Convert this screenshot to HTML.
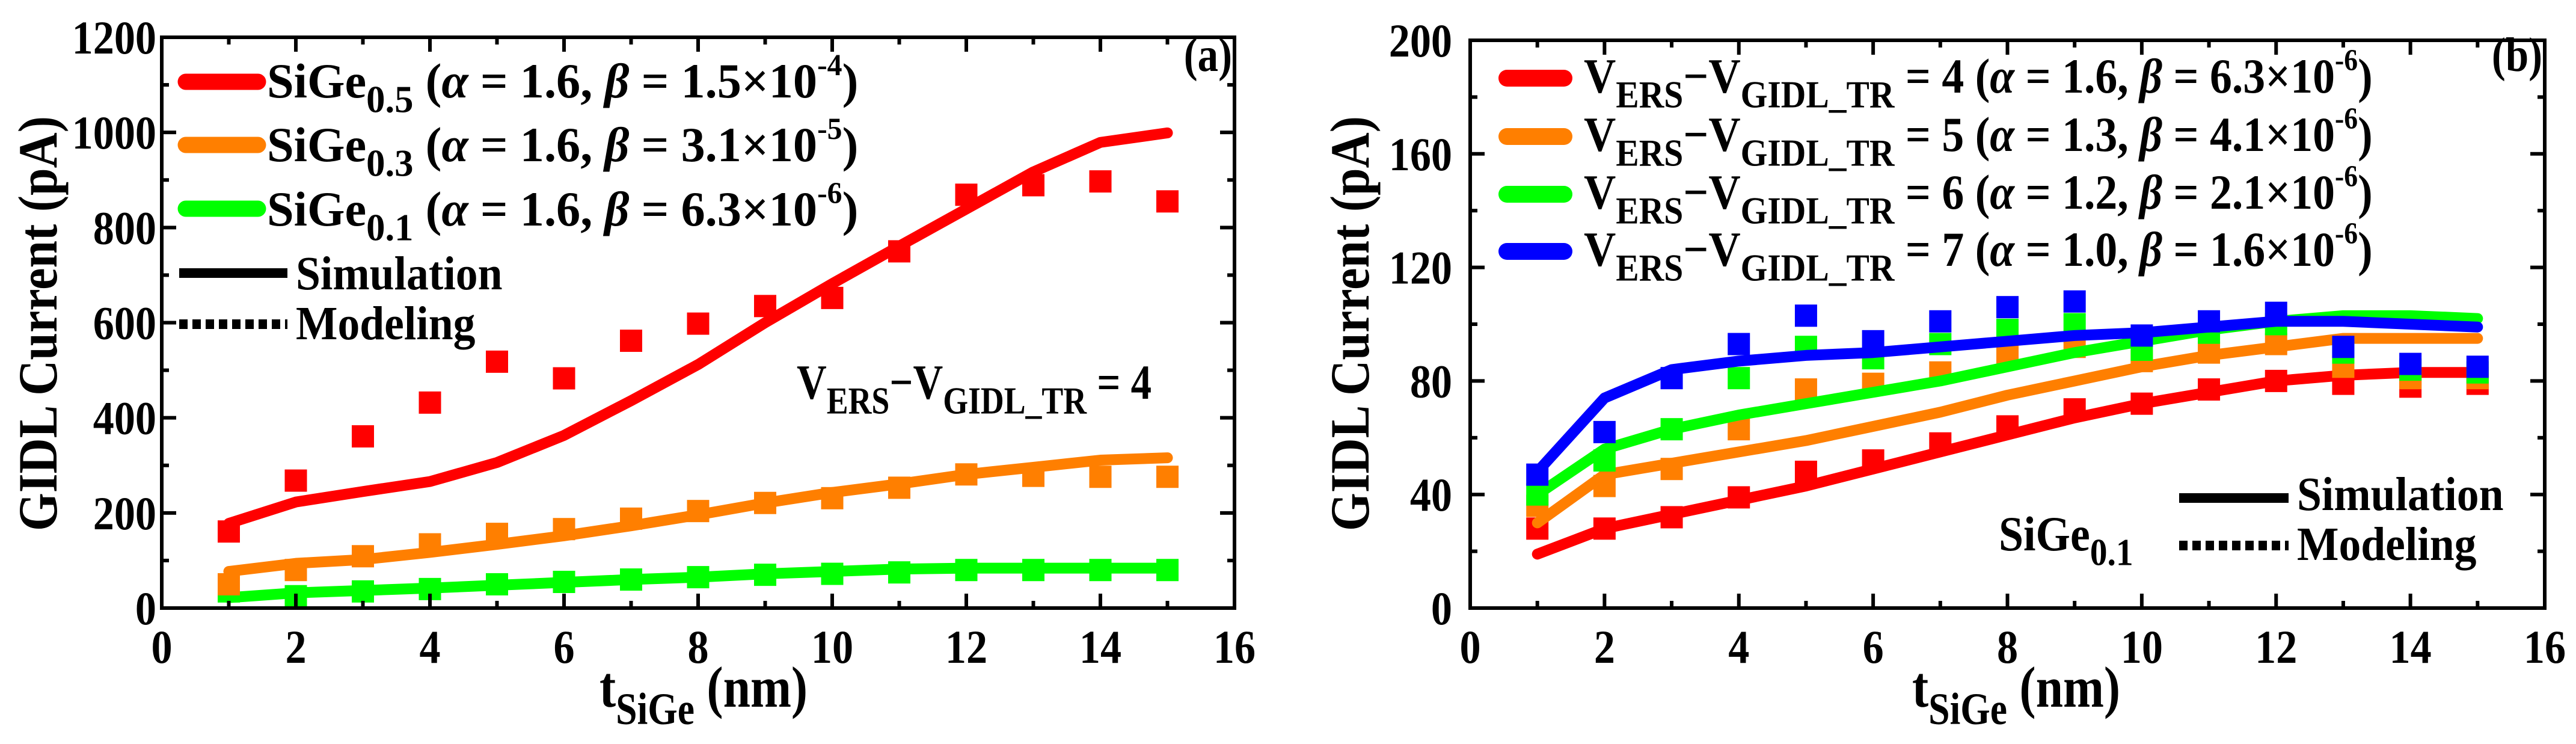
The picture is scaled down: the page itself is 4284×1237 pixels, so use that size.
<!DOCTYPE html>
<html><head><meta charset="utf-8"><style>
html,body{margin:0;padding:0;background:#fff;}
svg{display:block;font-family:"Liberation Serif",serif;font-weight:bold;}
</style></head><body>
<svg id="fig" xmlns="http://www.w3.org/2000/svg" width="4284" height="1237" viewBox="0 0 4284 1237"></svg>
<script>
const xVals=[1,2,3,4,5,6,7,8,9,10,11,12,13,14,15];
const aRedSim=[178,223,245,266,306,363,436,512,600,682,761,839,917,979,999];
const aRedMod=[161,268,361,432,518,483,562,598,635,652,750,869,889,897,855];
const aOrSim=[77,94,102,117,134,152,173,196,221,243,261,281,296,311,316];
const aOrMod=[50,80,109,134,156,166,188,204,221,231,253,281,278,276,276];
const aGrSim=[22,32,37,42,48,54,60,65,72,77,82,84,84,84,84];
const aGrMod=[35,25,35,40,50,55,60,65,70,72,75,80,80,80,80];
const bRedSim=[19,28,33,38,43,49,55,61,67,72,76,80,82,83,83];
const bRedMod=[28,28,32,39,48,52,58,64,70,72,77,80,79,78,79];
const bOrSim=[30,47,51,55,59,64,69,75,80,85,89,92,95,95,95];
const bOrMod=[36,43,49,63,77,79,83,89,92,87,90,93,85,81,81];
const bGrSim=[40,56,63,68,72,76,80,85,90,94,98,101,103,103,102];
const bGrMod=[40,52,63,81,92,88,93,98,100,91,97,100,90,84,83];
const bBlSim=[48,74,84,87,89,90,92,94,96,97,99,101,101,100,99];
const bBlMod=[47,62,81,93,103,94,101,106,108,96,101,104,92,86,85];
const xTicks=[0,2,4,6,8,10,12,14,16];
const aYTicks=[0,200,400,600,800,1000,1200];
const bYTicks=[0,40,80,120,160,200];

const NS="http://www.w3.org/2000/svg";
const svg=document.getElementById('fig');
function el(tag,attrs,parent){const e=document.createElementNS(NS,tag);for(const k in attrs)e.setAttribute(k,attrs[k]);(parent||svg).appendChild(e);return e;}
function txt(x,y,s,size,anchor,sx,parent){const t=el('text',{transform:`translate(${x},${y}) scale(${sx},1)`,'font-size':size,'text-anchor':anchor},parent);t.textContent=s;return t;}
function rich(x,y,parts,size,sx,parent){
  const t=el('text',{transform:`translate(${x},${y}) scale(${sx},1)`,'font-size':size},parent);
  let cur=0;
  for(const [s,type] of parts){
    const sp=document.createElementNS(NS,'tspan');
    let target=0,fs=size;
    if(type==='sub'){target=size*0.3;fs=size*0.78;}
    if(type==='sup'){target=-size*0.45;fs=size*0.62;}
    sp.setAttribute('dy',target-cur);cur=target;
    sp.setAttribute('font-size',fs);
    if(type==='i')sp.setAttribute('font-style','italic');
    sp.textContent=s;t.appendChild(sp);
  }
  return t;
}
const COLORS={red:'#ff0000',orange:'#ff7f00',green:'#00ff00',blue:'#0000ff'};

function panel(opt){
  const g=el('g',{});
  
  
  const {L,R,T,B,ymax}=opt;
  const X=v=>L+(v-0)/16*(R-L);
  const Y=v=>B-v/ymax*(B-T);
  for(const s of opt.series){
    const sg=el('g',{},g);
    
    
    const draw=()=>{
      const pts=xVals.map((x,i)=>X(x)+','+Y(s.sim[i])).join(' ');
      const pl=el('polyline',{points:pts,fill:'none',stroke:s.color,'stroke-width':18,'stroke-linejoin':'round','stroke-linecap':'round'},sg);
      
      
    };
    const sq=()=>{
      xVals.forEach((x,i)=>{
        const r=el('rect',{x:X(x)-18.5,y:Y(s.mod[i])-18.5,width:37,height:37,fill:s.color},sg);
        
        
      });
    };
    if(opt.squaresFirst){sq();draw();}else{draw();sq();}
  }
  const fr=el('rect',{x:L,y:T,width:R-L,height:B-T,fill:'none',stroke:'#000','stroke-width':6},g);
  
  
  for(let v=0;v<=16;v++){
    const len=v%2===0?24:12;const x=X(v);
    el('line',{x1:x,y1:B,x2:x,y2:B-len,stroke:'#000','stroke-width':6},g);
    el('line',{x1:x,y1:T,x2:x,y2:T+len,stroke:'#000','stroke-width':6},g);
  }
  xTicks.forEach(v=>{const t=txt(X(v),1102,String(v),78,'middle',0.9,g);
    
    });
  const yt=opt.yTicks;const step=yt[1]-yt[0];
  for(let v=0;v<=ymax+1e-9;v+=step/2){
    const major=Math.abs((v/step)-Math.round(v/step))<1e-6;const len=major?24:12;const y=Y(v);
    el('line',{x1:L,y1:y,x2:L+len,y2:y,stroke:'#000','stroke-width':6},g);
    el('line',{x1:R,y1:y,x2:R-len,y2:y,stroke:'#000','stroke-width':6},g);
  }
  yt.forEach(v=>{const t=txt(opt.ylabX,Y(v)+27,String(v),78,'end',0.9,g);
    
    });
  const xt=rich(opt.xtX,1175,[['t','n'],['SiGe','sub'],[' (nm)','n']],96,0.85,g);
  
  
  const ytl=el('text',{transform:`translate(${opt.ytX},${opt.ytY}) rotate(-90)`,'font-size':92,'text-anchor':'middle',textLength:690,lengthAdjust:'spacingAndGlyphs'},g);
  ytl.textContent='GIDL Current (pA)';
  
  
  return {g,X,Y};
}

const A=panel({name:'panel-a',L:269,R:2053,T:62,B:1011,ymax:1200,yTicks:aYTicks,ylabX:260,xtX:997,ytX:94,ytY:538,squaresFirst:false,
  series:[
    {name:'sige-0.1',color:COLORS.green,sim:aGrSim,mod:aGrMod},
    {name:'sige-0.3',color:COLORS.orange,sim:aOrSim,mod:aOrMod},
    {name:'sige-0.5',color:COLORS.red,sim:aRedSim,mod:aRedMod}]});
const legA=[
  [COLORS.red,136,162,[['SiGe','n'],['0.5','sub'],[' (','n'],['α','i'],[' = 1.6, ','n'],['β','i'],[' = 1.5×10','n'],['-4','sup'],[')','n']]],
  [COLORS.orange,241,268,[['SiGe','n'],['0.3','sub'],[' (','n'],['α','i'],[' = 1.6, ','n'],['β','i'],[' = 3.1×10','n'],['-5','sup'],[')','n']]],
  [COLORS.green,347,375,[['SiGe','n'],['0.1','sub'],[' (','n'],['α','i'],[' = 1.6, ','n'],['β','i'],[' = 6.3×10','n'],['-6','sup'],[')','n']]]];
legA.forEach(([c,ly,by,parts])=>{
  const l=el('line',{x1:309,y1:ly,x2:429,y2:ly,stroke:c,'stroke-width':27,'stroke-linecap':'round'},A.g);
  
  
  const t=rich(444,by,parts,82,0.98,A.g);
  
  
});
el('line',{x1:298,y1:454,x2:478,y2:454,stroke:'#000','stroke-width':16},A.g);
el('line',{x1:298,y1:539,x2:478,y2:539,stroke:'#000','stroke-width':16,'stroke-dasharray':'14 8'},A.g);
let t1=txt(492,481,'Simulation',80,'start',0.92,A.g);


let t2=txt(492,564,'Modeling',80,'start',0.92,A.g);


let ta=txt(2049,118,'(a)',80,'end',0.86,A.g);


let tv=rich(1325,663,[['V','n'],['ERS','sub'],['−V','n'],['GIDL_TR','sub'],[' = 4','n']],82,0.84,A.g);



const B=panel({name:'panel-b',L:2445,R:4232,T:67,B:1011,ymax:200,yTicks:bYTicks,ylabX:2415,xtX:3180,ytX:2276,ytY:538,squaresFirst:true,
  series:[
    {name:'v-diff-4',color:COLORS.red,sim:bRedSim,mod:bRedMod},
    {name:'v-diff-5',color:COLORS.orange,sim:bOrSim,mod:bOrMod},
    {name:'v-diff-6',color:COLORS.green,sim:bGrSim,mod:bGrMod},
    {name:'v-diff-7',color:COLORS.blue,sim:bBlSim,mod:bBlMod}]});
const legB=[
  [COLORS.red,130,154,'4','1.6','6.3'],
  [COLORS.orange,227,251,'5','1.3','4.1'],
  [COLORS.green,323,347,'6','1.2','2.1'],
  [COLORS.blue,418,442,'7','1.0','1.6']];
legB.forEach(([c,ly,by,v,a,b])=>{
  const l=el('line',{x1:2506,y1:ly,x2:2601,y2:ly,stroke:c,'stroke-width':28,'stroke-linecap':'round'},B.g);
  
  
  const t=rich(2634,by,[['V','n'],['ERS','sub'],['−V','n'],['GIDL_TR','sub'],[' = '+v+' (','n'],['α','i'],[' = '+a+', ','n'],['β','i'],[' = '+b+'×10','n'],['-6','sup'],[')','n']],82,0.9,B.g);
  
  
});
el('line',{x1:3624,y1:828,x2:3806,y2:828,stroke:'#000','stroke-width':16},B.g);
el('line',{x1:3624,y1:907,x2:3806,y2:907,stroke:'#000','stroke-width':16,'stroke-dasharray':'14 8'},B.g);
let t3=txt(3820,848,'Simulation',80,'start',0.92,B.g);


let t4=txt(3820,931,'Modeling',80,'start',0.92,B.g);


let t5=rich(3324,915,[['SiGe','n'],['0.1','sub']],82,0.9,B.g);


let tb=txt(4228,118,'(b)',80,'end',0.86,B.g);


</script>
</body></html>
